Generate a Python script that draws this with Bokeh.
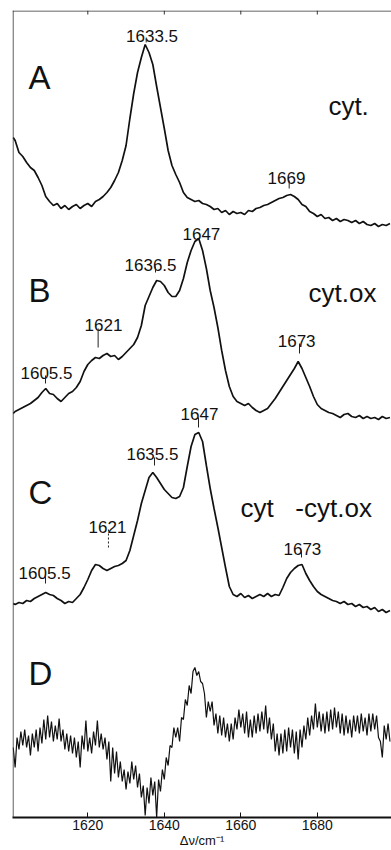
import numpy as np
from bokeh.plotting import figure
from bokeh.models import Range1d, LinearAxis, FixedTicker, Span
from bokeh.core.properties import value
from bokeh.embed import file_html
from bokeh.resources import INLINE

# ---------------- data ----------------
# wavenumber grid for A, B, C: 1600.5, then 1601 ... 1699 (step 1 cm-1)
# intensities in arbitrary units, each relative to its own panel baseline
SPEC_A = [90, 87, 75, 71, 65, 60, 57, 50, 42, 31,
          26, 22, 24, 19, 22, 18, 21, 23, 19, 22,
          24, 21, 26, 28, 31, 35, 40, 47, 55, 67,
          82, 109, 134, 155, 170, 183, 175, 163, 141, 120,
          99, 77, 62, 53, 45, 35, 30, 28, 26, 27,
          24, 23, 21, 18, 19, 15, 17, 13, 16, 14,
          15, 13, 17, 16, 19, 20, 22, 23, 25, 27,
          29, 30, 32, 33, 31, 28, 23, 21, 16, 14,
          11, 13, 9, 10, 7, 9, 6, 8, 7, 5,
          7, 4, 6, 3, 2, 4, 1, 3, 2, 4]

SPEC_B = [24, 26, 28, 30, 32, 34, 37, 40, 45, 49,
          44, 43, 39, 36, 40, 44, 46, 50, 56, 66,
          73, 77, 80, 79, 82, 84, 81, 82, 78, 81,
          85, 89, 93, 100, 112, 132, 141, 150, 157, 156,
          152, 145, 141, 141, 147, 159, 175, 187, 196, 199,
          187, 169, 147, 130, 110, 87, 67, 51, 41, 36,
          34, 32, 34, 30, 27, 25, 27, 29, 34, 39,
          45, 51, 57, 63, 69, 76, 69, 60, 51, 41,
          33, 29, 27, 25, 24, 22, 20, 23, 24, 21,
          20, 22, 19, 21, 19, 20, 18, 21, 19, 20]

SPEC_C = [34, 33, 35, 34, 37, 36, 39, 41, 43, 45,
          43, 42, 39, 37, 34, 36, 35, 39, 43, 50,
          58, 67, 73, 72, 69, 67, 69, 71, 72, 74,
          77, 87, 102, 117, 134, 147, 160, 165, 160, 154,
          148, 144, 140, 139, 141, 150, 171, 191, 203, 205,
          196, 172, 149, 129, 110, 90, 70, 51, 43, 41,
          44, 40, 42, 39, 41, 43, 41, 44, 41, 43,
          42, 50, 59, 65, 69, 72, 73, 64, 57, 51,
          46, 43, 41, 39, 37, 36, 34, 36, 33, 34,
          31, 33, 30, 31, 28, 30, 26, 28, 25, 27]

# difference spectrum D, step 0.5 cm-1 from 1600.5
SPEC_D = [70, 50, 80, 68, 86, 72, 88, 70, 82, 62,
          84, 70, 88, 66, 90, 74, 98, 78, 102, 80,
          96, 76, 92, 78, 99, 76, 88, 68, 84, 66,
          82, 64, 80, 60, 76, 50, 82, 68, 97, 66,
          80, 64, 86, 72, 97, 70, 84, 68, 80, 58,
          76, 36, 70, 44, 66, 40, 56, 36, 48, 28,
          46, 34, 56, 38, 52, 30, 44, 20, 32, 2,
          30, 14, 40, 22, 36, 0, 38, 26, 48, 38,
          60, 52, 72, 70, 90, 80, 90, 76, 100, 98,
          118, 112, 132, 124, 146, 150, 142, 146, 136, 134,
          124, 100, 116, 106, 116, 92, 104, 84, 102, 82,
          100, 80, 94, 76, 94, 78, 100, 88, 108, 90,
          104, 84, 106, 80, 98, 80, 102, 84, 104, 86,
          106, 88, 112, 84, 100, 78, 94, 66, 84, 62,
          84, 64, 88, 66, 90, 70, 88, 64, 86, 58,
          88, 70, 92, 78, 100, 82, 102, 88, 114, 90,
          106, 86, 104, 84, 106, 86, 108, 88, 110, 90,
          106, 84, 104, 82, 102, 84, 98, 80, 102, 86,
          102, 84, 104, 86, 100, 82, 104, 86, 104, 88,
          102, 80, 76, 60, 92, 78, 94, 76]

PANELS = ["A", "B", "C", "D"]
NB = "\u00a0"
PANEL_NOTES = ["cyt.", "cyt.ox", "cyt" + NB * 3 + "-cyt.ox"]
X_TICKS = [1620, 1640, 1660, 1680]
X_LABEL = "\u0394\u03bd/cm\u207b\u00b9"
PEAK_TEXT = ["1633.5", "1669", "1647", "1636.5", "1621", "1605.5", "1673",
             "1647", "1635.5", "1621", "1605.5", "1673"]

# ---------------- layout ----------------
OFFSETS = [590, 380, 180, 0]
X0, X1 = 1600.31, 1699.4
Y0, Y1 = 0, 807

x_abc = np.concatenate([[1600.5], 1601.0 + np.arange(len(SPEC_A) - 1)])
x_d = 1600.5 + 0.5 * np.arange(len(SPEC_D))

p = figure(width=391, height=850,
           x_range=Range1d(X0, X1), y_range=Range1d(Y0, Y1),
           output_backend="svg", toolbar_location=None,
           x_axis_location=None, y_axis_location=None,
           min_border_left=12, min_border_right=0,
           min_border_top=10, min_border_bottom=33)
p.outline_line_color = None
p.xgrid.visible = False
p.ygrid.visible = False
p.background_fill_color = "white"
p.border_fill_color = "white"

FONT = "Liberation Sans"
INK = "#111111"

xb = LinearAxis(ticker=FixedTicker(ticks=X_TICKS), major_tick_in=5, major_tick_out=0,
                minor_tick_line_color=None, axis_line_width=2, axis_line_color=INK,
                major_tick_line_color=INK,
                major_label_text_font_size="14px", major_label_text_font=FONT,
                major_label_text_color=INK, major_label_standoff=2,
                axis_label=X_LABEL, axis_label_text_font=FONT,
                axis_label_text_font_size="13px", axis_label_text_font_style="normal",
                axis_label_text_color=INK, axis_label_standoff=0)
p.add_layout(xb, "below")

# frame lines: top and left
p.add_layout(Span(location=Y1 - 0.5, dimension="width", line_color="#333333", line_width=1))
p.add_layout(Span(location=X0 + 0.15, dimension="height", line_color="#333333", line_width=1))
# inward ticks on the top edge
p.segment(x0=X_TICKS, y0=[Y1] * 4, x1=X_TICKS, y1=[Y1 - 4] * 4, line_color="#333333",
          line_width=1)

for spec, off in zip([SPEC_A, SPEC_B, SPEC_C], OFFSETS[:3]):
    p.line(x_abc, np.array(spec) + off, line_color=INK, line_width=1.7)
p.line(x_d, np.array(SPEC_D) + OFFSETS[3], line_color=INK, line_width=1.2)

# peak labels
lab_x = [1636.8, 1671.95, 1649.7, 1636.4, 1624.1, 1609.2, 1674.6,
         1649.2, 1636.9, 1625.15, 1608.7, 1676.1]
lab_y = [782, 640, 584, 553, 493, 445, 477, 404, 364, 291, 245, 269]
p.text(x=lab_x, y=lab_y, text=PEAK_TEXT, text_font=value(FONT), text_font_size="17px",
       text_align="center", text_baseline="alphabetic", text_color=INK)

mk_x = [1635.27, 1672.65, 1637.7, 1622.7, 1608.94, 1675.35,
        1648.94, 1637.44, 1608.94, 1675.87]
mk_y0 = [780, 637, 551, 489, 442, 474, 400, 360, 242, 267]
mk_y1 = [775, 629, 545, 470, 434, 464, 390, 352, 234, 260]
p.segment(x0=mk_x, y0=mk_y0, x1=mk_x, y1=mk_y1, line_color="#222222", line_width=1)
p.segment(x0=[1625.4], y0=[288], x1=[1625.4], y1=[269], line_color="#222222",
          line_width=1, line_dash="2 2")

# panel letters
p.text(x=[1604.5] * 4, y=[740, 527, 325, 144], text=PANELS, text_font=value(FONT),
       text_font_size="33px", text_align="left", text_baseline="alphabetic",
       text_color=INK)

# sample notes
p.text(x=[1682.9, 1677.7, 1659.9], y=[712, 525, 310], text=PANEL_NOTES,
       text_font=value(FONT), text_font_size="26px", text_align="left",
       text_baseline="alphabetic", text_color=INK)

open("out.html", "w").write(file_html(p, INLINE))
